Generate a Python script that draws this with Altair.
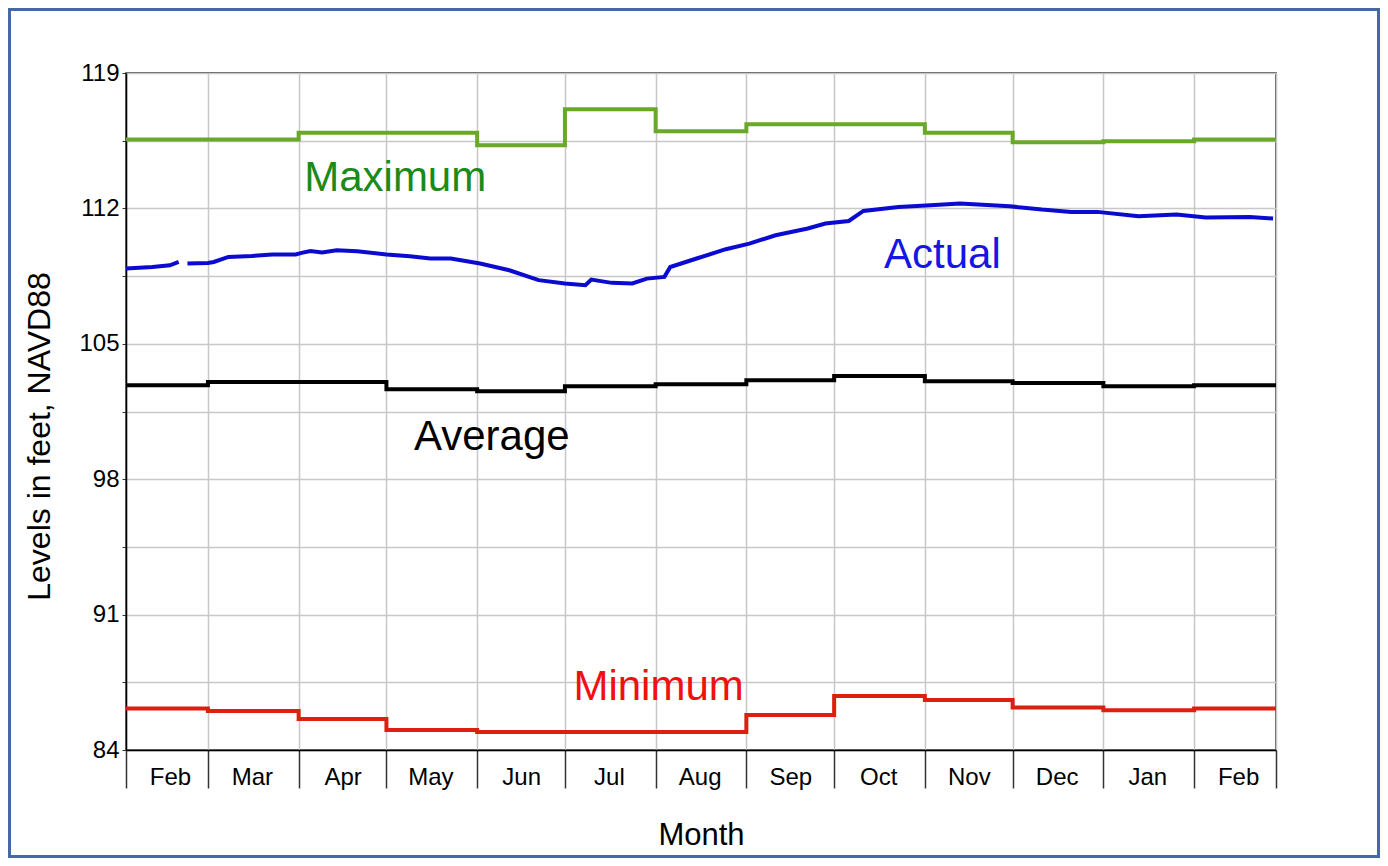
import altair as alt
import pandas as pd

# ---------------- data ----------------
month_starts = ["2023-02-01", "2023-03-01", "2023-04-01", "2023-05-01", "2023-06-01",
                "2023-07-01", "2023-08-01", "2023-09-01", "2023-10-01", "2023-11-01",
                "2023-12-01", "2024-01-01", "2024-02-01"]
period_end = "2024-02-29"

max_levels = [115.56, 115.56, 115.91, 115.91, 115.26, 117.12, 115.99,
              116.35, 116.35, 115.91, 115.42, 115.47, 115.56]
avg_levels = [102.86, 103.02, 103.02, 102.65, 102.55, 102.81, 102.91,
              103.12, 103.33, 103.07, 102.97, 102.81, 102.86]
min_levels = [86.15, 86.01, 85.60, 85.03, 84.93, 84.93, 84.93,
              85.81, 86.79, 86.59, 86.20, 86.06, 86.15]

actual_dates = ["2023-02-01", "2023-02-10", "2023-02-16", "2023-02-19",
                "2023-02-22", "2023-03-01", "2023-03-03", "2023-03-08", "2023-03-16", "2023-03-23",
                "2023-03-31", "2023-04-02", "2023-04-05", "2023-04-09", "2023-04-14", "2023-04-21",
                "2023-05-01", "2023-05-09", "2023-05-16", "2023-05-23", "2023-06-02",
                "2023-06-12", "2023-06-22", "2023-07-01", "2023-07-08", "2023-07-10",
                "2023-07-17", "2023-07-24", "2023-07-29", "2023-08-04", "2023-08-06",
                "2023-08-15", "2023-08-25", "2023-09-02", "2023-09-11", "2023-09-22",
                "2023-09-28", "2023-10-06", "2023-10-11", "2023-10-23", "2023-11-03",
                "2023-11-13", "2023-11-30", "2023-12-11", "2023-12-21", "2023-12-30",
                "2024-01-13", "2024-01-26", "2024-02-05", "2024-02-20", "2024-02-28"]
actual_levels = [108.89, 108.97, 109.06, 109.23,
                 109.15, 109.18, 109.23, 109.49, 109.54, 109.62,
                 109.62, 109.70, 109.80, 109.72, 109.84, 109.79,
                 109.62, 109.53, 109.41, 109.41, 109.15,
                 108.80, 108.29, 108.12, 108.03, 108.32,
                 108.15, 108.12, 108.37, 108.46, 108.97,
                 109.41, 109.89, 110.18, 110.61, 110.96,
                 111.22, 111.35, 111.87, 112.07, 112.16,
                 112.25, 112.11, 111.94, 111.82, 111.82,
                 111.59, 111.68, 111.53, 111.56, 111.48]
actual_segment = [1, 1, 1, 1] + [2] * 47

label_texts = ["Maximum", "Actual", "Average", "Minimum"]
label_dates = ["2023-05-04", "2023-11-07", "2023-06-06", "2023-08-02"]
label_levels = [113.56, 109.58, 100.17, 87.25]
label_colors = ["#1a8a1a", "#1515e6", "#000000", "#f01010"]

series_names = ["Maximum", "Average", "Minimum"]
series_colors = ["#6aa82a", "#000000", "#dc2010"]

y_ticks = [84, 87.5, 91, 94.5, 98, 101.5, 105, 108.5, 112, 115.5, 119]

# ---------------- tables ----------------
def ms(s):
    return int(pd.Timestamp(s, tz="UTC").value // 10**6)

rows = []
for name, vals in zip(series_names, [max_levels, avg_levels, min_levels]):
    for d, v in zip(month_starts + [period_end], vals + [vals[-1]]):
        rows.append({"date": d, "level": v, "series": name})
step_df = pd.DataFrame(rows)

actual_df = pd.DataFrame({"date": actual_dates, "level": actual_levels, "seg": actual_segment})
label_df = pd.DataFrame({"date": label_dates, "level": label_levels,
                         "text": label_texts, "color": label_colors})

x_domain = [ms(month_starts[0]), ms(period_end)]
x_values = [ms(d) for d in month_starts] + [ms(period_end)]
cut = ms(period_end) - 5 * 86400000

FONT = "Liberation Sans"

x_enc = alt.X(
    "date:T",
    scale=alt.Scale(type="utc", domain=x_domain),
    axis=alt.Axis(
        values=x_values,
        labelExpr=f"datum.value > {cut} ? '' : utcFormat(datum.value, '%b')",
        title="Month", titleFontSize=31, titleFont=FONT, titleFontWeight="normal",
        titleColor="#000000", titlePadding=31,
        labelFontSize=24, labelFont=FONT, labelColor="#000000",
        labelOffset=44, labelPadding=-23, labelBaseline="top",
        labelOverlap=False, labelFlush=False, labelBound=False,
        tickSize=38, tickColor="#333333", tickWidth=1.5,
        domainColor="#000000", domainWidth=1.5,
        grid=True, gridColor="#c8c8c8", gridWidth=1.5,
    ),
)
y_enc = alt.Y(
    "level:Q",
    scale=alt.Scale(domain=[84, 119], nice=False, zero=False),
    axis=alt.Axis(
        values=y_ticks,
        labelExpr="datum.value % 7 == 0 ? datum.label : ''",
        title="Levels in feet, NAVD88", titleFontSize=32, titleFont=FONT,
        titleFontWeight="normal", titleColor="#000000", titlePadding=22,
        titleY=363, titleAlign="center",
        labelFontSize=24, labelFont=FONT, labelColor="#000000", labelPadding=3,
        tickSize=4, tickColor="#333333",
        domainColor="#000000", domainWidth=1.5,
        grid=True, gridColor="#c8c8c8", gridWidth=1.5,
    ),
)

steps = alt.Chart(step_df).mark_line(interpolate="step-after", strokeWidth=4).encode(
    x=x_enc,
    y=y_enc,
    color=alt.Color("series:N", scale=alt.Scale(domain=series_names, range=series_colors), legend=None),
)

actual = alt.Chart(actual_df).mark_line(strokeWidth=4, color="#0a0ad0").encode(
    x="date:T", y="level:Q", detail="seg:N"
)

labels = alt.Chart(label_df).mark_text(fontSize=42, font=FONT).encode(
    x="date:T", y="level:Q", text="text:N", color=alt.Color("color:N", scale=None)
)

frame = alt.Chart(alt.Data(values=[{}])).mark_rect(
    filled=False, stroke="#4468a8", strokeWidth=3
).encode(
    x=alt.value(-116.5), x2=alt.value(1252.5), y=alt.value(-63.5), y2=alt.value(783.5)
)

chart = alt.layer(steps, actual, labels, frame).properties(
    width=1150, height=677,
    autosize=alt.AutoSizeParams(type="none"),
    padding={"left": 118, "top": 65, "right": 104, "bottom": 108},
    background="white",
).configure_view(stroke="#222222", strokeWidth=1.5)

chart.save("out.html", embed_options={"renderer": "svg", "actions": False})
